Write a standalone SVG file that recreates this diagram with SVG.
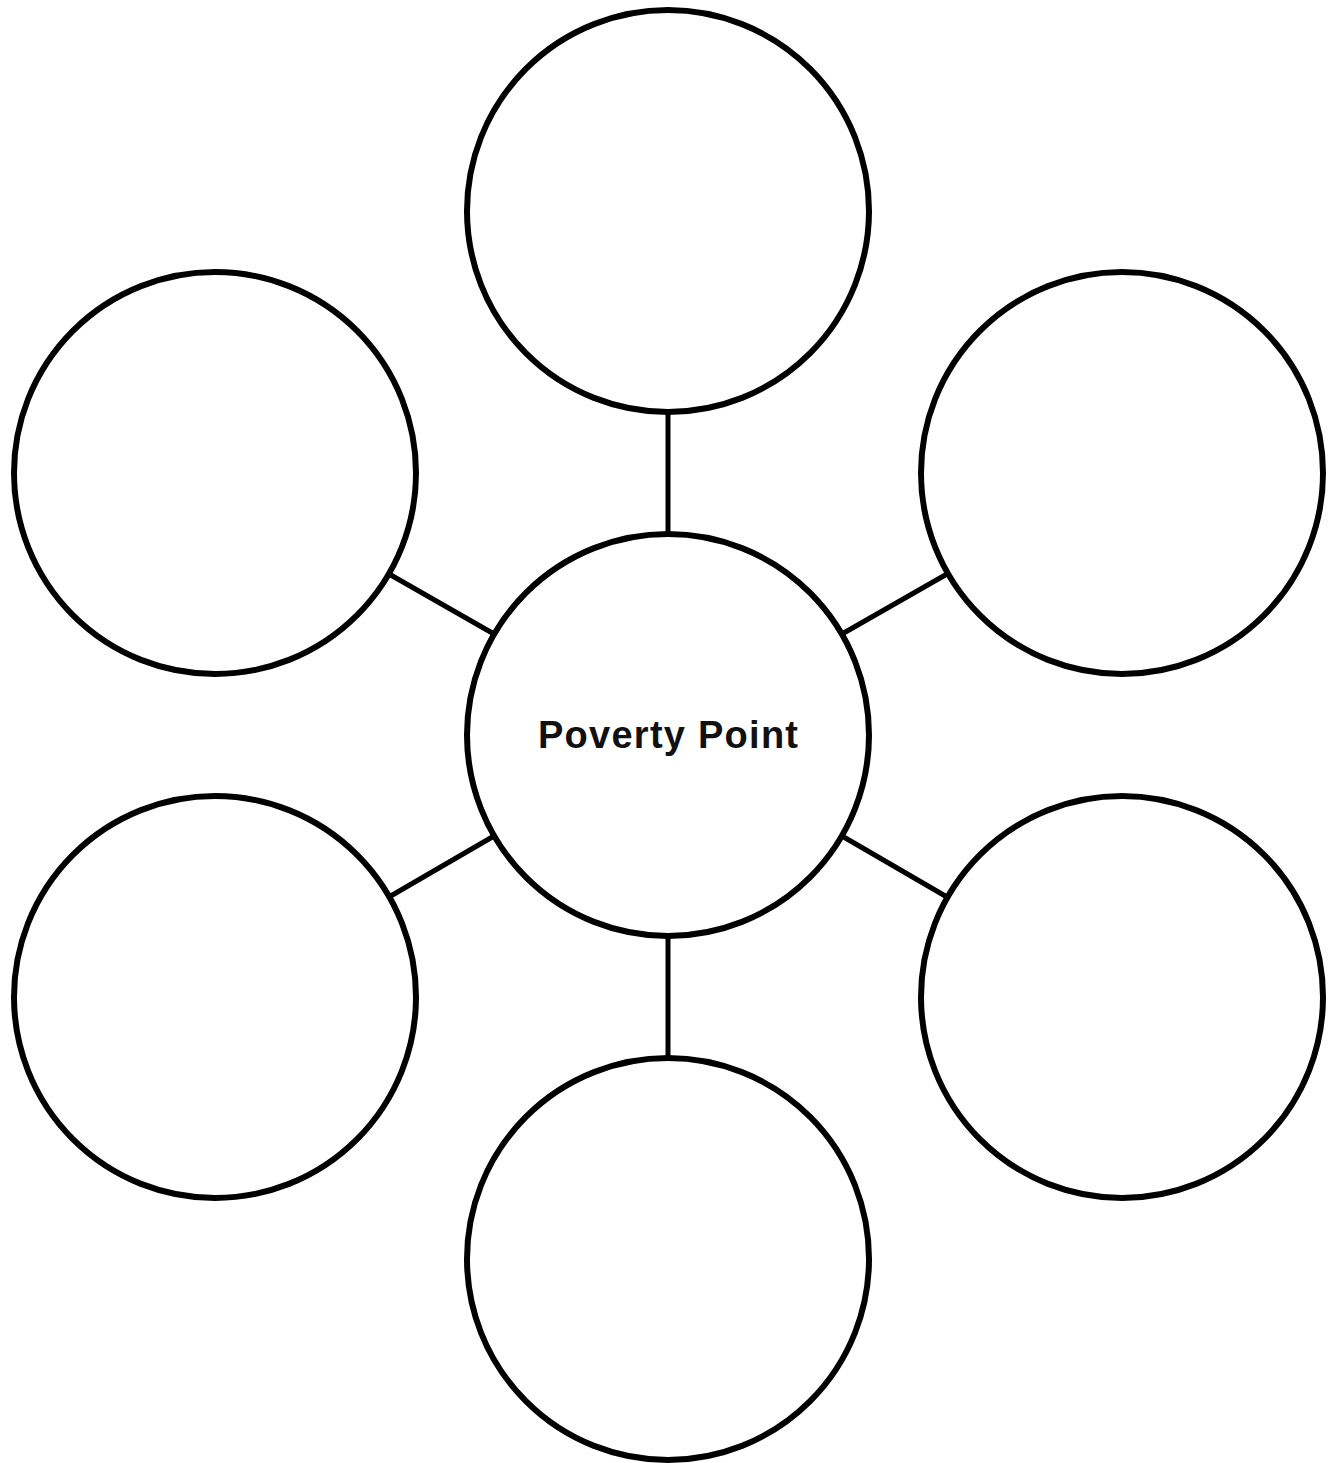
<svg xmlns="http://www.w3.org/2000/svg" width="1333" height="1463" viewBox="0 0 1333 1463">
<style>
.node{fill:#fff;stroke:#000;stroke-width:6}
.edge{stroke:#000;stroke-width:5;fill:none}
.label{font-family:"Liberation Sans",Arial,sans-serif;font-weight:bold;font-size:38px;fill:#111}
</style>
<rect width="1333" height="1463" fill="#fff"/>
<g id="connectors">
<line class="edge" x1="668" y1="412" x2="668" y2="534"/>
<line class="edge" x1="668" y1="936" x2="668" y2="1058"/>
<line class="edge" x1="389" y1="574" x2="494" y2="634"/>
<line class="edge" x1="842" y1="634" x2="947" y2="574"/>
<line class="edge" x1="389" y1="897" x2="494" y2="836"/>
<line class="edge" x1="842" y1="836" x2="947" y2="897"/>
</g>
<g id="center"><circle class="node" cx="668" cy="735" r="201"/><text class="label" x="668" y="748" text-anchor="middle" textLength="260">Poverty Point</text></g>
<g id="top"><circle class="node" cx="668" cy="211" r="201"/></g>
<g id="bottom"><circle class="node" cx="668" cy="1259" r="201"/></g>
<g id="upper-left"><circle class="node" cx="215" cy="473" r="201"/></g>
<g id="upper-right"><circle class="node" cx="1122" cy="473" r="201"/></g>
<g id="lower-left"><circle class="node" cx="215" cy="997" r="201"/></g>
<g id="lower-right"><circle class="node" cx="1122" cy="997" r="201"/></g>
</svg>
